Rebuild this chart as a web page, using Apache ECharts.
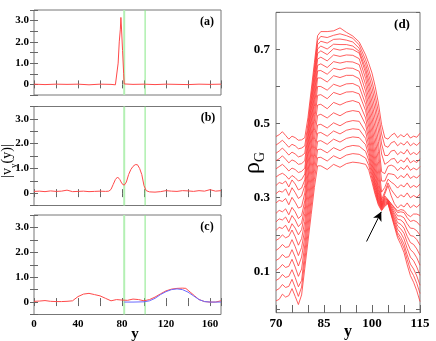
<!DOCTYPE html>
<html>
<head>
<meta charset="utf-8">
<script src="https://cdn.jsdelivr.net/npm/echarts@6/dist/echarts.min.js"></script>
<style>
html,body{margin:0;padding:0;background:#fff}
#main{width:436px;height:341px}
</style>
</head>
<body>
<div id="main"></div>
<script>
// (a) velocity spike
var xa = [0,10,20,30,40,50,60,70,74,75.5,76.5,77.5,78.5,79,79.5,80.5,81.5,82,90,100,110,120,130,140,150,160,170];
var ya = [0.01,-0.01,0.01,0,0.01,-0.02,0.01,0,-0.02,0.03,1.0,2.0,2.6,3.15,2.7,1.6,0.5,0.02,0,0.01,-0.01,0.01,0,-0.01,0.01,0,0.01];
// (b) |v_y(y)|
var xb = [0,5,10,15,20,25,30,35,40,45,50,55,60,65,68,70,72,74,76,78,80,82,84,86,88,90,92,94,96,98,100,102,105,110,115,120,125,130,135,140,145,150,155,160,165,170];
var yb = [0.07,0.08,0.06,0.09,0.07,0.08,0.12,0.06,0.07,0.08,0.06,0.07,0.08,0.07,0.08,0.15,0.35,0.55,0.65,0.55,0.38,0.32,0.45,0.75,0.95,1.08,1.15,1.15,1.0,0.75,0.3,0.1,0.05,0.04,0.06,0.1,0.08,0.07,0.1,0.09,0.07,0.1,0.08,0.14,0.08,0.1];
// (c) red profile and blue fit
var xc = [0,5,10,15,20,25,30,35,40,45,50,55,60,65,70,75,80,85,90,95,100,105,110,115,120,125,130,135,138,142,146,150,155,160,165,170];
var yc = [0.03,0.04,0.06,0.03,0.02,0.02,0.03,0.05,0.22,0.32,0.35,0.3,0.25,0.15,0.05,0.1,0.08,0.07,0.12,0.1,0.05,0.1,0.2,0.33,0.45,0.52,0.55,0.56,0.55,0.4,0.25,0.1,0.02,0,0,0.05];
var xfit = [82,90,100,105,110,115,120,125,130,135,140,145,150,155,160,170];
var yfit = [0,0,0.01,0.05,0.15,0.3,0.42,0.5,0.53,0.5,0.4,0.25,0.1,0.02,0,0];
var vlines = [82, 101];

// (d) rho_G profiles
var xd = [70,71,72,73,74,75,76,77,78,79,80,81,82,83,84,86,88,90,92,94,96,98,99,100,101,102,103,104,105,106,107,108,109,110,111,112,113,114,115];
var rho01 = [.465,.47,.478,.468,.458,.466,.462,.455,.456,.462,.517,.59,.664,.737,.748,.748,.75,.758,.746,.736,.72,.685,.662,.636,.6,.555,.497,.462,.458,.468,.474,.462,.47,.464,.473,.461,.466,.463,.474];
var rho02 = [.442,.448,.455,.446,.436,.444,.44,.432,.434,.44,.5,.575,.65,.724,.735,.732,.738,.742,.737,.73,.712,.672,.645,.615,.577,.53,.472,.44,.436,.448,.452,.44,.448,.442,.452,.44,.447,.441,.45];
var rho03 = [.42,.426,.434,.425,.415,.423,.418,.41,.413,.42,.487,.563,.638,.713,.722,.717,.727,.728,.725,.72,.703,.66,.63,.597,.556,.505,.445,.414,.414,.426,.428,.416,.424,.418,.43,.416,.422,.416,.426];
var rho04 = [.4,.405,.413,.404,.394,.402,.398,.39,.392,.4,.472,.549,.625,.701,.709,.701,.714,.713,.713,.709,.695,.648,.615,.578,.534,.48,.418,.39,.396,.404,.406,.393,.402,.396,.408,.394,.4,.395,.405];
var rho05 = [.378,.384,.39,.382,.372,.38,.376,.368,.371,.38,.458,.535,.612,.689,.696,.686,.702,.698,.702,.7,.69,.637,.6,.558,.51,.452,.37,.365,.385,.388,.384,.373,.382,.376,.387,.374,.38,.375,.384];
var rho06 = [.356,.362,.366,.36,.35,.36,.354,.345,.349,.364,.442,.519,.596,.674,.679,.669,.685,.681,.685,.684,.675,.622,.583,.538,.486,.425,.345,.345,.365,.364,.362,.351,.36,.354,.365,.352,.358,.353,.362];
var rho07 = [.333,.341,.338,.345,.329,.348,.337,.321,.326,.348,.426,.503,.58,.657,.661,.651,.667,.663,.667,.666,.659,.605,.565,.517,.462,.398,.315,.328,.35,.342,.336,.326,.335,.329,.34,.327,.333,.328,.337];
var rho08 = [.311,.318,.315,.324,.306,.327,.314,.298,.305,.333,.41,.487,.564,.642,.643,.633,.649,.645,.65,.649,.641,.588,.546,.496,.438,.372,.295,.316,.34,.322,.31,.299,.308,.302,.313,.3,.306,.301,.31];
var rho09 = [.286,.293,.29,.298,.281,.301,.288,.272,.276,.313,.39,.468,.546,.623,.623,.612,.629,.624,.63,.63,.621,.57,.527,.475,.415,.35,.288,.31,.333,.305,.284,.272,.281,.275,.286,.273,.28,.274,.283];
var rho10 = [.258,.266,.262,.27,.254,.274,.262,.244,.252,.292,.369,.447,.524,.6,.6,.59,.606,.6,.607,.608,.6,.552,.508,.455,.395,.333,.284,.305,.295,.284,.274,.264,.268,.266,.255,.249,.256,.256,.252];
var rho11 = [.235,.243,.24,.248,.232,.252,.24,.222,.232,.276,.352,.429,.505,.576,.578,.567,.584,.578,.585,.586,.58,.535,.49,.437,.378,.322,.281,.301,.294,.283,.271,.26,.262,.26,.246,.236,.239,.235,.225];
var rho12 = [.212,.22,.217,.226,.209,.23,.218,.2,.214,.258,.332,.407,.481,.55,.552,.54,.557,.55,.558,.562,.556,.515,.472,.42,.364,.313,.279,.298,.293,.279,.265,.251,.251,.246,.23,.218,.217,.211,.199];
var rho13 = [.185,.19,.2,.192,.196,.213,.195,.172,.19,.236,.31,.383,.457,.522,.525,.515,.529,.521,.531,.535,.532,.497,.456,.405,.352,.306,.277,.295,.292,.275,.258,.242,.24,.232,.213,.198,.196,.187,.172];
var rho14 = [.158,.164,.174,.166,.168,.187,.168,.144,.166,.215,.287,.36,.432,.496,.498,.488,.502,.494,.504,.508,.506,.478,.44,.392,.342,.3,.275,.292,.29,.271,.252,.233,.228,.218,.196,.179,.174,.162,.145];
var rho15 = [.131,.136,.147,.139,.141,.16,.14,.116,.14,.194,.267,.339,.412,.474,.476,.466,.48,.472,.482,.486,.484,.46,.426,.38,.334,.295,.273,.289,.289,.267,.245,.224,.216,.204,.18,.16,.152,.138,.118];
var rho16 = [.104,.11,.12,.112,.115,.134,.113,.088,.108,.173,.246,.318,.391,.452,.454,.444,.458,.45,.46,.464,.462,.443,.413,.37,.327,.291,.271,.286,.288,.263,.239,.215,.205,.189,.163,.14,.13,.113,.091];
var rho17 = [.077,.082,.093,.085,.088,.106,.085,.06,.077,.152,.225,.297,.37,.43,.431,.421,.435,.427,.437,.441,.439,.425,.4,.36,.32,.287,.269,.283,.286,.259,.232,.206,.193,.175,.146,.121,.108,.089,.064];
var rho18 = [.05,.055,.066,.058,.061,.08,.058,.034,.059,.131,.204,.277,.349,.408,.409,.399,.413,.405,.415,.419,.417,.407,.387,.351,.314,.284,.267,.28,.285,.256,.227,.199,.184,.164,.133,.105,.09,.069,.042];
var rho19 = [.022,.026,.04,.032,.036,.055,.034,.012,.038,.11,.183,.255,.328,.386,.386,.376,.39,.382,.392,.396,.394,.39,.374,.342,.308,.28,.265,.277,.284,.253,.222,.192,.174,.152,.119,.09,.072,.049,.02];
var rhoCurves = [rho01,rho02,rho03,rho04,rho05,rho06,rho07,rho08,rho09,rho10,rho11,rho12,rho13,rho14,rho15,rho16,rho17,rho18,rho19];
var rhoTicks = [0,0.1,0.2,0.3,0.4,0.5,0.6,0.7,0.8];
var rhoLabels = [0.1,0.3,0.5,0.7];

var font = 'Liberation Serif';
var myChart = echarts.init(document.getElementById('main'));

function pairs(xs, ys){
	var out = [];
	for(var i=0;i<xs.length;i++){ out.push([xs[i], ys[i]]) }
	return out;
}

function xAx(g, min, max, iv, pos, show, fs, fmt){
	return {type:'value', gridIndex:g, min:min, max:max, interval:iv, position:pos,
		axisLine:{show:false}, splitLine:{show:false},
		axisTick:{inside:true, length:4, lineStyle:{color:'#666'}},
		axisLabel:{show:show, formatter:fmt, color:'#000', fontFamily:font, fontWeight:'bold', fontSize:fs, margin:4}};
}
function yAx(g, pos, show){
	return {type:'value', gridIndex:g, min:-0.5, max:3.5, interval:0.5, position:pos,
		axisLine:{show:false}, splitLine:{show:false},
		axisTick:{inside:true, length:4, lineStyle:{color:'#666'}},
		axisLabel:{show:show, color:'#000', fontFamily:font, fontWeight:'bold', fontSize:11, margin:5,
			formatter:function(v){ if(v===0) return '0'; if(v%1===0 && v>0 && v<3.5) return v.toFixed(1); return ''; }}};
}
var leftFmt = function(v){ return v%40===0 ? String(v) : '' };

var grids = [
	{left:34, top:10, width:187, height:85},
	{left:34, top:106.5, width:187, height:99},
	{left:34, top:215, width:187, height:99.5},
	{left:276, top:12.3, width:144, height:300.4}
];
grids.forEach(function(g){ g.show=true; g.borderColor='#777'; g.borderWidth=1; g.containLabel=false; g.outerBoundsMode='none'; });

var xAxes = [], yAxes = [];
for(var i=0;i<3;i++){
	xAxes.push(xAx(i, 0, 170, 20, 'bottom', i===2, 11, leftFmt));
	xAxes.push(xAx(i, 0, 170, 20, 'top', false, 11, leftFmt));
	yAxes.push(yAx(i, 'left', true));
	yAxes.push(yAx(i, 'right', false));
}
xAxes.push(xAx(3, 70, 115, 5, 'bottom', true, 13, function(v){ return (v-70)%15===0 ? String(v) : '' }));
xAxes.push(xAx(3, 70, 115, 5, 'top', false, 13, null));
function rhoAx(pos, show){
	return {type:'value', gridIndex:3, min:-0.01, max:0.8, position:pos,
		axisLine:{show:false}, splitLine:{show:false},
		axisTick:{inside:true, length:4, customValues:rhoTicks, lineStyle:{color:'#666'}},
		axisLabel:{show:show, customValues:rhoLabels, color:'#000', fontFamily:font, fontWeight:'bold', fontSize:13, margin:6,
			formatter:function(v){ return v.toFixed(1) }}};
}
yAxes.push(rhoAx('left', true));
yAxes.push(rhoAx('right', false));

var series = [];
var red = '#ff4a4a';
var vColors = ['#b4f0b4', '#86e886'];
var vWidths = [2, 1];
// vertical marker lines, drawn first so the curves sit on top
for(var p=0;p<3;p++){
	for(var j=0;j<vlines.length;j++){
		series.push({type:'line', xAxisIndex:2*p, yAxisIndex:2*p, silent:true, showSymbol:false,
			data:[[vlines[j], -0.5],[vlines[j], 3.5]], lineStyle:{color:vColors[j], width:vWidths[j]}});
	}
}
series.push({type:'line', xAxisIndex:0, yAxisIndex:0, data:pairs(xa,ya), showSymbol:false, lineStyle:{color:red, width:1}});
series.push({type:'line', xAxisIndex:2, yAxisIndex:2, data:pairs(xb,yb), showSymbol:false, lineStyle:{color:red, width:1}});
series.push({type:'line', xAxisIndex:4, yAxisIndex:4, data:pairs(xc,yc), showSymbol:false, lineStyle:{color:red, width:1}});
series.push({type:'line', xAxisIndex:4, yAxisIndex:4, data:pairs(xfit,yfit), showSymbol:false, lineStyle:{color:'#6b6bff', width:1}});
for(var k=0;k<rhoCurves.length;k++){
	series.push({type:'line', xAxisIndex:6, yAxisIndex:6, data:pairs(xd, rhoCurves[k]), showSymbol:false,
		lineStyle:{color:'#ff3636', width:0.8}});
}
// arrow
series[series.length-1].markLine = {silent:true, label:{show:false}, symbolSize:[7,9],
	lineStyle:{color:'#000', width:1, type:'solid'},
	data:[[{coord:[98.3,0.182], symbol:'none'},{coord:[102.9,0.262], symbol:'arrow'}]]};

var lab = {fontFamily:font, fontWeight:'bold', fill:'#000'};
var option = {
	animation:false,
	backgroundColor:'#fff',
	grid:grids,
	xAxis:xAxes,
	yAxis:yAxes,
	series:series,
	graphic:[
		{type:'text', x:207, y:21.5, style:Object.assign({text:'(a)', fontSize:12, align:'center', verticalAlign:'middle'}, lab)},
		{type:'text', x:208, y:117.5, style:Object.assign({text:'(b)', fontSize:12, align:'center', verticalAlign:'middle'}, lab)},
		{type:'text', x:207, y:226.5, style:Object.assign({text:'(c)', fontSize:12, align:'center', verticalAlign:'middle'}, lab)},
		{type:'text', x:402, y:25, style:Object.assign({text:'(d)', fontSize:13, align:'center', verticalAlign:'middle'}, lab)},
		{type:'text', x:135, y:334, style:Object.assign({text:'y', fontSize:15, align:'center', verticalAlign:'middle'}, lab)},
		{type:'text', x:348, y:332, style:Object.assign({text:'y', fontSize:16, align:'center', verticalAlign:'middle'}, lab)},
		{type:'text', x:9, y:161, rotation:Math.PI/2,
			style:{text:'{n||v}{s|y}{n|(y)|}', align:'center', verticalAlign:'middle',
				rich:{n:{fontFamily:font, fontSize:14, lineHeight:18, verticalAlign:'top', fill:'#000'},
				      s:{fontFamily:font, fontSize:9, lineHeight:9, verticalAlign:'bottom', fill:'#000'}}}},
		{type:'text', x:254, y:163, rotation:Math.PI/2,
			style:{text:'{n|ρ}{s|G}', align:'center', verticalAlign:'middle',
				rich:{n:{fontFamily:font, fontSize:24, lineHeight:26, verticalAlign:'top', fill:'#000'},
				      s:{fontFamily:font, fontSize:14, lineHeight:14, verticalAlign:'bottom', fill:'#000'}}}}
	]
};
myChart.setOption(option);
</script>
</body>
</html>
